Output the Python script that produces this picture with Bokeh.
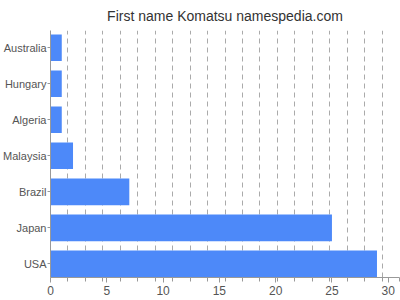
from bokeh.plotting import figure
from bokeh.models import Range1d, FixedTicker
from bokeh.embed import file_html
from bokeh.resources import INLINE

title_text = "First name Komatsu namespedia.com"
countries = ["USA", "Japan", "Brazil", "Malaysia", "Algeria", "Hungary", "Australia"]
values = [29, 25, 7, 2, 1, 1, 1]
x_ticks = [0, 5, 10, 15, 20, 25, 30]
x_max = 31
grid_divisions = 20

positions = list(range(len(countries)))

p = figure(width=400, height=300, output_backend="svg", toolbar_location=None,
           x_range=Range1d(0, x_max), y_range=Range1d(-0.38, len(countries) - 1 + 0.48),
           min_border_left=49, min_border_right=1, min_border_top=30, min_border_bottom=23)

p.title.text = title_text
p.title.align = "center"
p.title.vertical_align = "top"
p.title.text_font = "Liberation Sans"
p.title.text_font_size = "14px"
p.title.text_font_style = "normal"
p.title.text_color = "#333333"
p.title.standoff = 10

p.hbar(y=positions, right=values, left=0, height=0.74, color="#4d89f9", line_color=None)

step = x_max / grid_divisions
grid_pos = [i * step for i in range(1, grid_divisions + 1)]

p.xgrid.ticker = FixedTicker(ticks=grid_pos)
p.xgrid.grid_line_color = "#aaaaaa"
p.xgrid.grid_line_dash = "5 4"
p.xgrid.grid_line_width = 1
p.ygrid.grid_line_color = None

p.xaxis.ticker = FixedTicker(ticks=x_ticks, minor_ticks=grid_pos)
p.yaxis.ticker = FixedTicker(ticks=positions)
p.yaxis.major_label_overrides = {i: c for i, c in zip(positions, countries)}

for ax in (p.xaxis, p.yaxis):
    ax.axis_line_color = "#999999"
    ax.major_tick_line_color = "#999999"
    ax.minor_tick_line_color = "#999999"
    ax.major_label_text_font = "Liberation Sans"
    ax.major_label_text_font_size = "11px"
    ax.major_label_text_color = "#555555"
    ax.major_tick_in = 0
    ax.minor_tick_in = 0

p.xaxis.major_tick_out = 5
p.xaxis.minor_tick_out = 4
p.xaxis.major_label_standoff = 3
p.xaxis.major_label_text_font_size = "12px"
p.yaxis.major_tick_out = 3
p.yaxis.minor_tick_out = 0
p.yaxis.major_label_standoff = 1

p.outline_line_color = None
p.background_fill_color = "white"
p.border_fill_color = "white"

open("out.html", "w").write(file_html(p, INLINE))
